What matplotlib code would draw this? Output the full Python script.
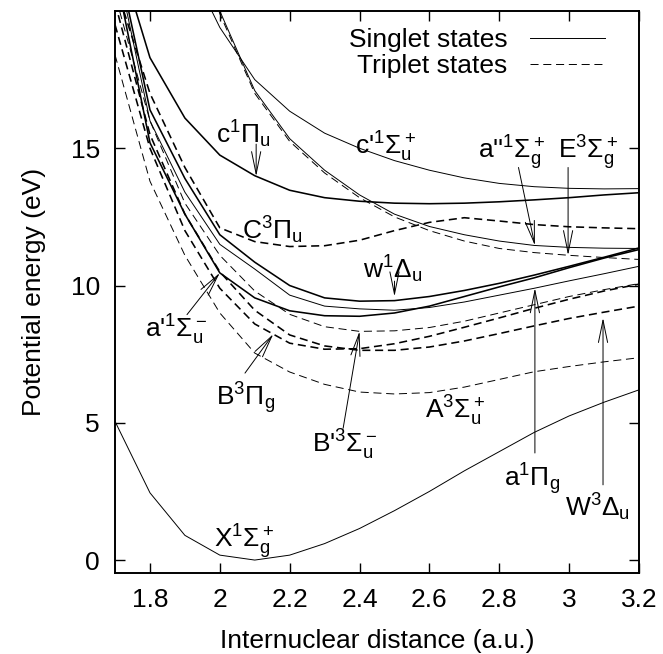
import numpy as np
import matplotlib
matplotlib.use('Agg')
import matplotlib.pyplot as plt
from matplotlib.lines import Line2D

plt.rcParams['font.family'] = ['Liberation Sans', 'DejaVu Sans']
plt.rcParams['mathtext.fontset'] = 'custom'
plt.rcParams['mathtext.rm'] = 'Liberation Sans'
plt.rcParams['mathtext.it'] = 'Liberation Sans'
plt.rcParams['mathtext.bf'] = 'Liberation Sans:bold'
plt.rcParams['lines.scale_dashes'] = False

nan = np.nan
# internuclear distance grid (a.u.)
r = [1.7, 1.8, 1.9, 2.0, 2.1, 2.2, 2.3, 2.4, 2.5, 2.6, 2.7, 2.8, 2.9, 3.0, 3.1, 3.2]

# singlet states (eV)
X1Sg = [5.05, 2.45, 0.9, 0.18, 0.0, 0.18, 0.6, 1.15, 1.8, 2.5, 3.25, 3.95, 4.65, 5.25, 5.75, 6.2]
ap1Su = [21.5, 15.2, 12.6, 10.46, 9.55, 9.08, 8.9, 8.88, 9.0, 9.25, 9.6, 9.95, 10.28, 10.65, 11.0, 11.31]
a1Pg = [22.0, 16.0, 13.4, 11.5, 10.6, 9.65, 9.25, 9.15, 9.1, 9.2, 9.4, 9.65, 9.9, 10.17, 10.43, 10.7]
w1Du = [22.3, 16.4, 13.9, 11.85, 10.85, 10.0, 9.55, 9.43, 9.45, 9.6, 9.82, 10.08, 10.38, 10.7, 11.03, 11.37]
c1Pu = [22.5, 18.3, 16.1, 14.75, 14.0, 13.47, 13.2, 13.07, 13.0, 12.98, 13.0, 13.05, 13.12, 13.2, 13.3, 13.38]
cp1Su = [nan, 26.0, 22.0, 19.4, 17.5, 16.35, 15.55, 15.0, 14.55, 14.2, 13.92, 13.72, 13.6, 13.54, 13.52, 13.53]
app1Sg = [nan, nan, 24.0, 20.0, 17.1, 15.35, 14.2, 13.3, 12.6, 12.15, 11.85, 11.62, 11.46, 11.39, 11.36, 11.35]

# triplet states (eV)
A3Su = [18.4, 13.8, 11.1, 9.0, 7.54, 6.85, 6.4, 6.12, 6.05, 6.1, 6.3, 6.58, 6.86, 7.05, 7.22, 7.37]
B3Pg = [19.5, 15.0, 12.0, 9.9, 8.6, 7.9, 7.68, 7.7, 7.88, 8.15, 8.48, 8.82, 9.17, 9.5, 9.8, 10.05]
W3Du = [20.3, 15.5, 12.6, 10.5, 9.1, 8.2, 7.8, 7.64, 7.64, 7.76, 7.98, 8.25, 8.53, 8.8, 9.03, 9.25]
Bp3Su = [20.6, 16.0, 13.0, 11.1, 9.8, 8.95, 8.5, 8.33, 8.35, 8.47, 8.7, 9.0, 9.3, 9.6, 9.85, 10.07]
C3Pu = [21.0, 17.0, 14.3, 12.1, 11.6, 11.42, 11.45, 11.65, 12.0, 12.3, 12.47, 12.35, 12.22, 12.14, 12.1, 12.07]
E3Sg = [nan, nan, 24.0, 19.9, 17.0, 15.25, 14.1, 13.2, 12.5, 12.0, 11.62, 11.35, 11.2, 11.1, 11.02, 10.95]

xticks = [1.8, 2.0, 2.2, 2.4, 2.6, 2.8, 3.0, 3.2]
xtick_labels = ['1.8', '2', '2.2', '2.4', '2.6', '2.8', '3', '3.2']
yticks = [0, 5, 10, 15]

FS = 19
thin, thick = 0.7, 1.15
dash = (5.8, 3.4)

fig = plt.figure(figsize=(6.63, 6.54), dpi=100)
ax = fig.add_axes([0.1735, 0.1239, 0.7903, 0.8593])

# singlets, solid
ax.plot(r, X1Sg, 'k-', lw=thin)
ax.plot(r, ap1Su, 'k-', lw=thick)
ax.plot(r, a1Pg, 'k-', lw=thin)
ax.plot(r, w1Du, 'k-', lw=thick)
ax.plot(r, c1Pu, 'k-', lw=thick)
ax.plot(r, cp1Su, 'k-', lw=thin)
ax.plot(r, app1Sg, 'k-', lw=thin)
# triplets, dashed
ax.plot(r, A3Su, 'k', lw=thin, dashes=dash)
ax.plot(r, B3Pg, 'k', lw=thick, dashes=dash)
ax.plot(r, W3Du, 'k', lw=thick, dashes=dash)
ax.plot(r, Bp3Su, 'k', lw=thin, dashes=dash)
ax.plot(r, C3Pu, 'k', lw=thick, dashes=dash)
ax.plot(r, E3Sg, 'k', lw=thin, dashes=dash)

ax.set_xlim(1.7, 3.2)
ax.set_ylim(-0.47, 20.0)
ax.set_xticks(xticks)
ax.set_xticklabels(xtick_labels)
ax.set_yticks(yticks)
ax.tick_params(direction='in', top=True, right=True, length=7, width=1.0,
               labelsize=FS, pad=11)
for s in ax.spines.values():
    s.set_linewidth(1.4)
ax.set_xlabel('Internuclear distance (a.u.)', fontsize=FS, labelpad=12)
ax.set_ylabel('Potential energy (eV)', fontsize=FS, labelpad=18)

# state labels
labels = [
    (r'c$^1\Pi_u$', 2.066, 15.5),
    (r"c'$^1\Sigma_u^+$", 2.473, 15.05),
    (r'C$^3\Pi_u$', 2.15, 12.0),
    (r'w$^1\Delta_u$', 2.496, 10.58),
    (r"a'$^1\Sigma_u^-$", 1.875, 8.4),
    (r'B$^3\Pi_g$', 2.075, 5.9),
    (r"B'$^3\Sigma_u^-$", 2.356, 4.2),
    (r'A$^3\Sigma_u^+$', 2.673, 5.45),
    (r'a$^1\Pi_g$', 2.894, 2.95),
    (r'W$^3\Delta_u$', 3.08, 1.93),
    (r'X$^1\Sigma_g^+$', 2.07, 0.66),
    (r"a''$^1\Sigma_g^+$", 2.836, 14.85),
    (r'E$^3\Sigma_g^+$', 3.055, 14.85),
]
for txt, x, y in labels:
    ax.text(x, y, txt, fontsize=FS, ha='center', va='center')

# arrows: (curve, r at tip, tail r, tail E, tip offset)
arrows = [
    (c1Pu, 2.104, 2.104, 15.15, 0.0),
    (ap1Su, 2.0, 1.906, 8.94, 0.0),
    (w1Du, 2.5, 2.5, 10.16, 0.15),
    (B3Pg, 2.153, 2.072, 6.81, 0.0),
    (Bp3Su, 2.40, 2.353, 4.8, 0.0),
    (a1Pg, 2.902, 2.902, 3.9, 0.0),
    (W3Du, 3.097, 3.097, 2.74, -0.2),
    (app1Sg, 2.902, 2.855, 14.3, 0.0),
    (E3Sg, 2.997, 2.997, 14.3, 0.0),
]
for curve, rt, rx, ey, off in arrows:
    tip = (rt, np.interp(rt, r, curve) + off)
    ax.annotate('', xy=tip, xytext=(rx, ey),
                arrowprops=dict(arrowstyle='->,head_length=1.6,head_width=0.33',
                                lw=0.7, color='k', shrinkA=0, shrinkB=0,
                                mutation_scale=10))

handles = [Line2D([], [], color='k', lw=thin),
           Line2D([], [], color='k', lw=thin, dashes=dash)]
ax.legend(handles, ['Singlet states', 'Triplet states'], loc='upper right',
          bbox_to_anchor=(0.935, 0.97), frameon=False, markerfirst=False,
          fontsize=FS, handlelength=2.85, handletextpad=0.85, labelspacing=0.1,
          borderaxespad=0, borderpad=0)

fig.savefig('out.png', dpi=100)
